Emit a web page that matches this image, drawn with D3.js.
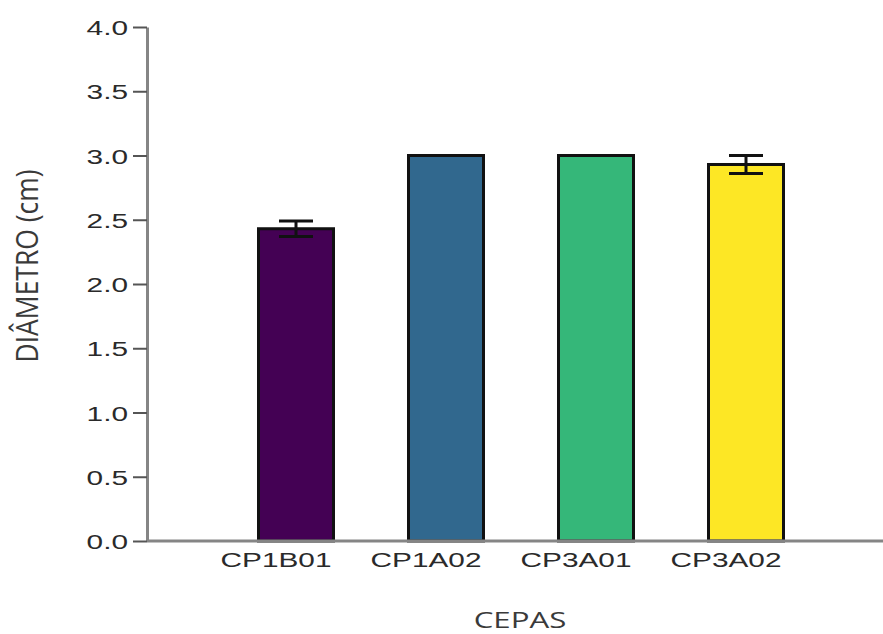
<!DOCTYPE html>
<html><head><meta charset="utf-8">
<script src="https://cdn.jsdelivr.net/npm/d3@7"></script>
<style>body{margin:0;background:#fff}</style>
</head><body>
<svg id="c" width="883" height="634"></svg>
<script>
const categories = ["CP1B01", "CP1A02", "CP3A01", "CP3A02"];
const means = [2.43, 3.0, 3.0, 2.93];
const errors = [0.06, 0, 0, 0.07];
const colors = ["#440154", "#31688e", "#35b779", "#fde725"];
const yTicks = [0, 0.5, 1.0, 1.5, 2.0, 2.5, 3.0, 3.5, 4.0];
const yLabel = "DIÂMETRO (cm)";
const xLabel = "CEPAS";

const SX = 1.42; // horizontal stretch of the reference image
const svg = d3.select("#c");
const x0 = 147, y0 = 541, yTop = 27;
const y = d3.scaleLinear().domain([0, 4]).range([y0, yTop]);
const x = d3.scaleBand().domain(categories).range([221, 821]).paddingInner(0.5).paddingOuter(0.25);

// bars
const data = categories.map((c, i) => ({c, m: means[i], e: errors[i], col: colors[i]}));
svg.append("g").selectAll("rect").data(data).join("rect")
  .attr("x", d => x(d.c)).attr("width", x.bandwidth())
  .attr("y", d => y(d.m)).attr("height", d => y(0) - y(d.m))
  .attr("fill", d => d.col).attr("stroke", "#111").attr("stroke-width", 3);

// error bars
const eb = svg.append("g").attr("stroke", "#111").attr("stroke-width", 3);
data.filter(d => d.e > 0).forEach(d => {
  const cx = x(d.c) + x.bandwidth() / 2;
  eb.append("line").attr("x1", cx).attr("x2", cx).attr("y1", y(d.m + d.e)).attr("y2", y(d.m - d.e));
  eb.append("line").attr("x1", cx - 17).attr("x2", cx + 17).attr("y1", y(d.m + d.e)).attr("y2", y(d.m + d.e));
  eb.append("line").attr("x1", cx - 17).attr("x2", cx + 17).attr("y1", y(d.m - d.e)).attr("y2", y(d.m - d.e));
});

// y axis
const ya = svg.append("g").attr("transform", `translate(${x0},0)`)
  .call(d3.axisLeft(y).tickValues(yTicks).tickFormat(d3.format(".1f")).tickSize(14).tickSizeOuter(0));
ya.select(".domain").attr("stroke", "#858585").attr("stroke-width", 3);
ya.selectAll(".tick line").attr("stroke", "#555").attr("stroke-width", 2);
ya.selectAll(".tick text")
  .attr("font-family", "Liberation Sans, Arial, sans-serif").attr("font-size", 21).attr("fill", "#2a2a2a")
  .attr("x", -19 / SX).attr("dy", "0.36em")
  .attr("transform", `scale(${SX},1)`);

// x axis line
svg.append("line").attr("x1", x0).attr("x2", 883).attr("y1", y0).attr("y2", y0)
  .attr("stroke", "#858585").attr("stroke-width", 3);

// x tick labels (sit slightly left of the bar centres in the reference)
svg.append("g").selectAll("text").data(categories).join("text")
  .attr("transform", d => `translate(${x(d) + x.bandwidth() / 2 - 20},567) scale(${SX},1)`)
  .attr("text-anchor", "middle")
  .attr("font-family", "Liberation Sans, Arial, sans-serif").attr("font-size", 21).attr("fill", "#2a2a2a")
  .text(d => d);

// axis titles
svg.append("text").attr("transform", `translate(520,628) scale(${SX},1)`)
  .attr("text-anchor", "middle").attr("font-family", "Open Sans, sans-serif").attr("font-size", 22)
  .attr("fill", "#3a3a3a").text(xLabel);
svg.append("text").attr("transform", `translate(29,266) scale(${SX},1) rotate(-90)`)
  .attr("text-anchor", "middle").attr("font-family", "Open Sans, sans-serif").attr("font-size", 22)
  .attr("fill", "#3a3a3a").attr("dy", "0.3em")
  .attr("textLength", 193).attr("lengthAdjust", "spacingAndGlyphs").text(yLabel);
</script>
</body></html>
